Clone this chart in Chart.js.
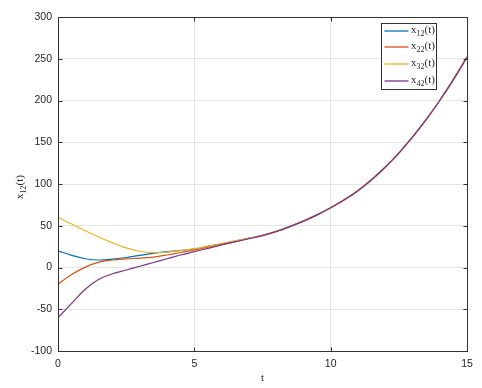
<!DOCTYPE html>
<html>
<head>
<meta charset="utf-8">
<script src="https://cdn.jsdelivr.net/npm/chart.js@4/dist/chart.umd.min.js"></script>
<style>
  html, body { margin: 0; padding: 0; background: #fff; }
  #wrap { width: 482px; height: 388px; }
</style>
</head>
<body>
<div id="wrap"><canvas id="c" width="482" height="388"></canvas></div>
<script>
// time samples
const tValues = [0, 0.5, 1, 1.5, 2, 2.5, 3, 3.5, 4, 4.5, 5, 5.5, 6, 6.5, 7, 7.5, 8, 8.5, 9, 9.5, 10, 10.5, 11, 11.5, 12, 12.5, 13, 13.5, 14, 14.5, 15]

// series
const x12 = [20, 14.5, 10.5, 9, 10, 12, 14.5, 17, 19, 20.5, 22, 25.2, 28.4, 31.6, 35, 38.5, 43.2, 49, 55.5, 63, 71.5, 81, 92, 105, 120, 137, 156, 177, 200, 225, 252]
const x22 = [-20, -8.5, 0.5, 6.5, 9, 10.3, 11.2, 12.5, 15, 18, 21, 24.5, 28, 31.2, 34.8, 38.4, 43.1, 49, 55.5, 63, 71.5, 81, 92, 105, 120, 137, 156, 177, 200, 225, 252]
const x32 = [60, 52, 44, 36.5, 29.5, 23.5, 19.5, 17.8, 18.5, 20.3, 22.5, 25.6, 28.7, 31.8, 35.1, 38.6, 43.3, 49, 55.5, 63, 71.5, 81, 92, 105, 120, 137, 156, 177, 200, 225, 252]
const x42 = [-60, -43, -26, -14, -7.5, -3, 1.5, 6, 10.5, 15, 19, 23, 27, 30.7, 34.5, 38.2, 43, 48.9, 55.5, 63, 71.5, 81, 92, 105, 120, 137, 156, 177, 200, 225, 252]

const seriesNames = ['x12(t)', 'x22(t)', 'x32(t)', 'x42(t)']
const xTicks = [0, 5, 10, 15]
const yTicks = [-100, -50, 0, 50, 100, 150, 200, 250, 300]

const colors = ['#0072BD', '#D95319', '#EDB120', '#7E2F8E']
const allSeries = [x12, x22, x32, x42]

const serif = '"Liberation Serif", "DejaVu Serif", serif'
const sans = '"Liberation Sans", Arial, sans-serif'

// draws "x" + subscript + "(t)" starting at x, baseline y
function drawSubText(ctx, label, x, y, size) {
    const m = label.match(/^(x)(\d+)(.*)$/)
    ctx.font = size + 'px ' + serif
    ctx.textAlign = 'left'
    ctx.textBaseline = 'alphabetic'
    ctx.fillText(m[1], x, y)
    let w = ctx.measureText(m[1]).width
    ctx.font = Math.round(size * 0.75) + 'px ' + serif
    ctx.fillText(m[2], x + w, y + size * 0.3)
    w += ctx.measureText(m[2]).width
    ctx.font = size + 'px ' + serif
    ctx.fillText(m[3], x + w, y)
}

const boxPlugin = {
    id: 'box',
    afterDraw(chart) {
        const ctx = chart.ctx
        const a = chart.chartArea
        const xs = chart.scales.x, ys = chart.scales.y
        ctx.save()
        ctx.strokeStyle = '#333'
        ctx.lineWidth = 1
        const L = Math.round(a.left) + 0.5, R = Math.round(a.right) + 0.5
        const T = Math.round(a.top) + 0.5, B = Math.round(a.bottom) + 0.5
        ctx.strokeRect(L, T, R - L, B - T)
        // inward ticks
        ctx.beginPath()
        xTicks.forEach(v => {
            const px = Math.round(xs.getPixelForValue(v)) + 0.5
            ctx.moveTo(px, B); ctx.lineTo(px, B - 4)
            ctx.moveTo(px, T); ctx.lineTo(px, T + 4)
        })
        yTicks.forEach(v => {
            const py = Math.round(ys.getPixelForValue(v)) + 0.5
            ctx.moveTo(L, py); ctx.lineTo(L + 4, py)
            ctx.moveTo(R, py); ctx.lineTo(R - 4, py)
        })
        ctx.stroke()

        // axis titles
        ctx.fillStyle = '#262626'
        ctx.font = '11px ' + serif
        ctx.textAlign = 'center'
        ctx.fillText('t', (a.left + a.right) / 2, 381)
        ctx.save()
        ctx.translate(23, (a.top + a.bottom) / 2 + 15)
        ctx.rotate(-Math.PI / 2)
        drawSubText(ctx, 'x12(t)', 0, 0, 11)
        ctx.restore()

        // legend
        const bx = a.right - 85.5, by = a.top + 6.5, bw = 55, bh = 66
        ctx.fillStyle = '#fff'
        ctx.fillRect(bx, by, bw, bh)
        ctx.strokeStyle = '#333'
        ctx.strokeRect(bx, by, bw, bh)
        seriesNames.forEach((name, i) => {
            const ly = Math.round(by + 7 + i * 16.7)
            ctx.strokeStyle = colors[i]
            ctx.lineWidth = 1.3
            ctx.beginPath()
            ctx.moveTo(bx + 3, ly); ctx.lineTo(bx + 27, ly)
            ctx.stroke()
            ctx.fillStyle = '#262626'
            drawSubText(ctx, name, bx + 29.5, ly + 2, 11)
        })
        ctx.restore()
    }
}

new Chart(document.getElementById('c'), {
    type: 'line',
    data: {
        datasets: allSeries.map((s, i) => ({
            label: seriesNames[i],
            data: s.map((v, j) => ({ x: tValues[j], y: v })),
            borderColor: colors[i],
            borderWidth: 1.2,
            pointRadius: 0,
            fill: false,
            tension: 0.4,
            order: 3 - i
        }))
    },
    options: {
        responsive: false,
        animation: false,
        layout: { padding: { left: 0, right: 15, top: 17, bottom: 0 } },
        plugins: { legend: { display: false }, tooltip: { enabled: false } },
        scales: {
            x: {
                type: 'linear',
                min: 0, max: 15,
                afterFit: s => { s.height = 37 },
                afterBuildTicks: s => { s.ticks = xTicks.map(v => ({ value: v })) },
                grid: { color: '#e6e6e6', drawTicks: false },
                border: { display: false },
                ticks: { color: '#262626', font: { family: sans, size: 10.5 }, padding: 7, maxRotation: 0 }
            },
            y: {
                min: -100, max: 300,
                afterFit: s => { s.width = 58 },
                afterBuildTicks: s => { s.ticks = yTicks.map(v => ({ value: v })) },
                grid: { color: '#e6e6e6', drawTicks: false },
                border: { display: false },
                ticks: { color: '#262626', font: { family: sans, size: 10.5 }, padding: 6 }
            }
        }
    },
    plugins: [boxPlugin]
})
</script>
</body>
</html>
